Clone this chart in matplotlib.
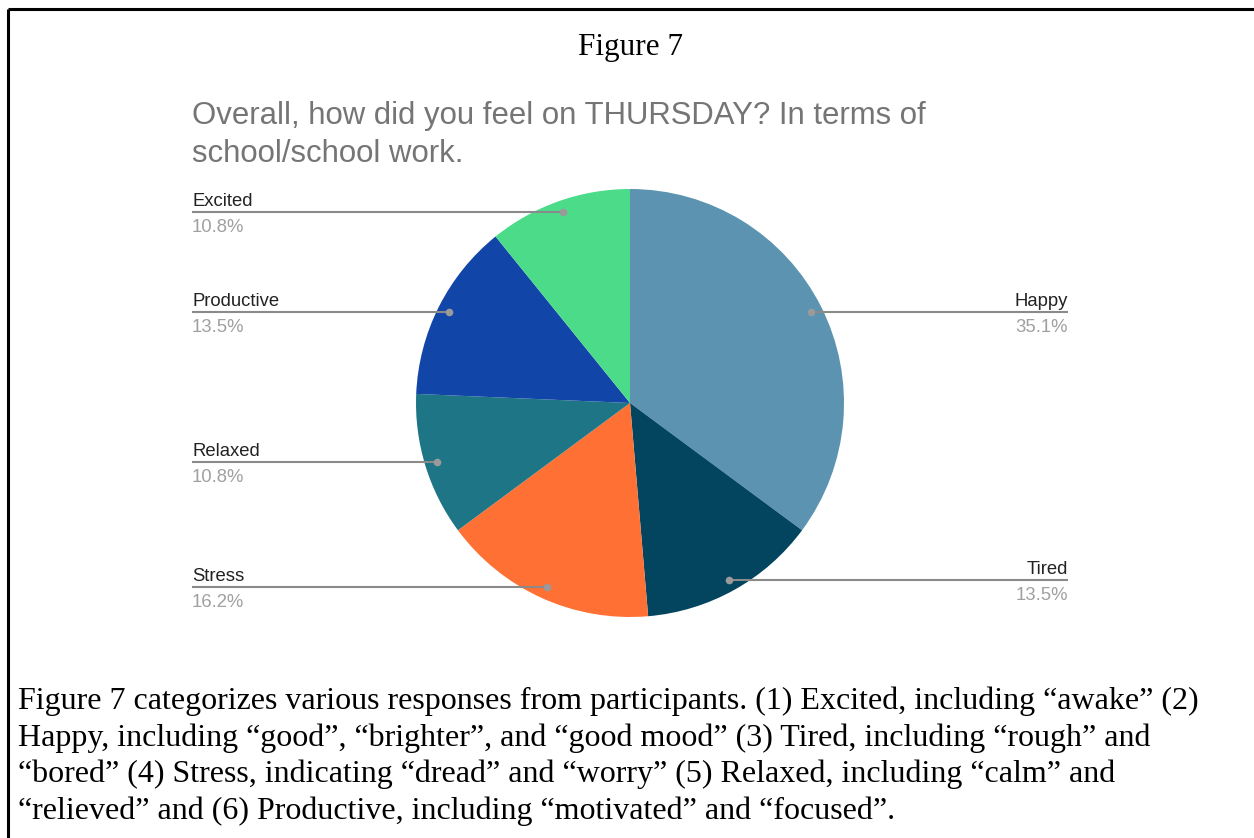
import numpy as np
import matplotlib
matplotlib.use("Agg")
import matplotlib.pyplot as plt

W, H = 1254, 838

labels = ["Happy", "Tired", "Stress", "Relaxed", "Productive", "Excited"]
counts = [13, 5, 6, 4, 5, 4]
colors = ["#5b93b0", "#03455f", "#ff7034", "#1e7585", "#1146a8", "#4cdc89"]

title = "Figure 7"
chart_title = ["Overall, how did you feel on THURSDAY? In terms of",
               "school/school work."]
caption = [
    "Figure 7 categorizes various responses from participants. (1) Excited, including \u201cawake\u201d (2)",
    "Happy, including \u201cgood\u201d, \u201cbrighter\u201d, and \u201cgood mood\u201d (3) Tired, including \u201crough\u201d and",
    "\u201cbored\u201d (4) Stress, indicating \u201cdread\u201d and \u201cworry\u201d (5) Relaxed, including \u201ccalm\u201d and",
    "\u201crelieved\u201d and (6) Productive, including \u201cmotivated\u201d and \u201cfocused\u201d.",
]


def Y(py):
    # pixel row (from top) -> data y
    return H - py


fig = plt.figure(figsize=(W / 100, H / 100), dpi=100)
ax = fig.add_axes([0, 0, 1, 1])

cx, cy, R = 630, Y(403), 214
ax.pie(counts, colors=colors, startangle=90, counterclock=False,
       center=(cx, cy), radius=R, wedgeprops=dict(linewidth=0))
ax.set_xlim(0, W)
ax.set_ylim(0, H)
ax.set_aspect("auto")
ax.axis("off")

# leader lines and labels
total = sum(counts)
cum = 0
sans = "Liberation Sans"
for lab, c in zip(labels, counts):
    mid = (cum + c / 2) / total
    cum += c
    ang = np.deg2rad(90 - mid * 360)
    dx = cx + 0.945 * R * np.cos(ang)
    dy = cy + 0.945 * R * np.sin(ang)
    pct = "%.1f%%" % (100 * c / total)
    if dx > cx:
        x0, x1, ha, tx = dx, 1068, "right", 1068
    else:
        x0, x1, ha, tx = 192, dx, "left", 192
    ax.plot([x0, x1], [dy, dy], color="#8a8a8a", lw=1.5, solid_capstyle="butt")
    ax.plot(dx, dy, "o", color="#9a9a9a", ms=5.5, mec="none")
    ax.text(tx, dy + 6, lab, ha=ha, va="baseline", fontsize=13.3,
            family=sans, color="#222222")
    ax.text(tx, dy - 7, pct, ha=ha, va="top", fontsize=13.3,
            family=sans, color="#a0a0a0")

# chart title
for i, line in enumerate(chart_title):
    ax.text(192, Y(124 + 38 * i), line, ha="left", va="baseline",
            fontsize=22.4, family=sans, color="#757575")

# figure heading and caption
ax.text(630, Y(55), title, ha="center", va="baseline", fontsize=22.5,
        family="Liberation Serif", color="black")
for i, line in enumerate(caption):
    ax.text(18, Y(709 + 36.5 * i), line, ha="left", va="baseline",
            fontsize=23.0, family="Liberation Serif", color="black")

# border (top and left only)
ax.plot([8, W], [Y(9), Y(9)], color="black", lw=2.2, solid_capstyle="butt")
ax.plot([8, 8], [Y(9), 0], color="black", lw=2.2, solid_capstyle="butt")

fig.savefig("out.png", dpi=100)
